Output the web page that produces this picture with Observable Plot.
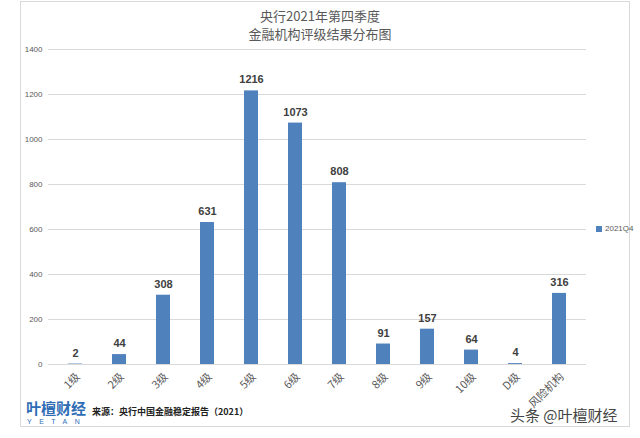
<!DOCTYPE html>
<html><head><meta charset="utf-8">
<script src="https://cdn.jsdelivr.net/npm/d3@7"></script>
<script src="https://cdn.jsdelivr.net/npm/@observablehq/plot@0.6"></script>
<style>
body{margin:0;background:#fff;}
#wrap{position:relative;width:640px;height:438px;overflow:hidden;font-family:"Noto Sans CJK SC",sans-serif;}
#frame{position:absolute;left:20px;top:1px;width:610px;height:426px;border:1px solid #d9d9d9;box-sizing:border-box;}
.title{position:absolute;left:0;width:640px;text-align:center;font-size:13px;line-height:14px;color:#595959;font-family:"Noto Sans CJK SC",serif;}
#legend{position:absolute;left:596px;top:224px;font-size:8px;color:#595959;font-family:"Liberation Sans",sans-serif;}
#legend span.sw{display:inline-block;width:6px;height:6px;background:#4f81bd;margin-right:3px;vertical-align:middle;}
#logo{position:absolute;left:26px;top:400px;color:#2f6db5;font-weight:bold;font-size:15px;line-height:15px;}
#logo2{position:absolute;left:27px;top:418px;color:#2f6db5;font-size:7px;letter-spacing:7.5px;font-family:"Liberation Sans",sans-serif;}
#src{position:absolute;left:92px;top:405px;font-size:9px;font-weight:bold;color:#222;}
#wm{position:absolute;left:510px;top:404px;font-size:15px;color:#444;text-shadow:0 0 2px #fff,0 0 2px #fff;}
#chart{position:absolute;left:0;top:0;}
</style></head>
<body>
<div id="wrap">
<div id="frame"></div>
<div id="chart"></div>
<div class="title" style="top:9px">央行2021年第四季度</div>
<div class="title" style="top:27px">金融机构评级结果分布图</div>
<div id="legend"><span class="sw"></span>2021Q4</div>
<div id="logo">叶檀财经</div>
<div id="logo2">YETAN</div>
<div id="src">来源：央行中国金融稳定报告（2021）</div>
<div id="wm">头条 @叶檀财经</div>
</div>
<script>
const categories = ["1级","2级","3级","4级","5级","6级","7级","8级","9级","10级","D级","风险机构"];
const values = [2,44,308,631,1216,1073,808,91,157,64,4,316];
const yTicks = [0,200,400,600,800,1000,1200,1400];
const data = categories.map((c,i)=>({cat:c, v:values[i]}));

const plot = Plot.plot({
  width: 640, height: 438,
  marginLeft: 48, marginRight: 54, marginTop: 49, marginBottom: 74,
  style: {background:"transparent", fontFamily:"Liberation Sans, sans-serif"},
  x: {domain: categories, paddingInner: 0.69, paddingOuter: 0.345, axis: null},
  y: {domain: [0,1400], ticks: yTicks, axis: null},
  marks: [
    Plot.gridY(yTicks, {stroke:"#d9d9d9", strokeOpacity:1, strokeWidth:1}),
    Plot.axisY(yTicks, {tickSize:0, tickPadding:6, fontSize:8, color:"#595959", label:null, tickFormat:d=>String(d)}),
    Plot.barY(data, {x:"cat", y:"v", fill:"#4f81bd"}),
    Plot.text(data, {x:"cat", y:"v", text:d=>String(d.v), dy:-11, fontSize:11, fontWeight:"bold", fill:"#404040"}),
    Plot.text(data, {x:"cat", text:"cat", frameAnchor:"bottom", rotate:-45, textAnchor:"end", dx:5, dy:13, fontSize:11, fill:"#595959", fontFamily:"Noto Sans CJK SC, sans-serif"})
  ]
});
document.getElementById("chart").appendChild(plot);
</script>
</body></html>
